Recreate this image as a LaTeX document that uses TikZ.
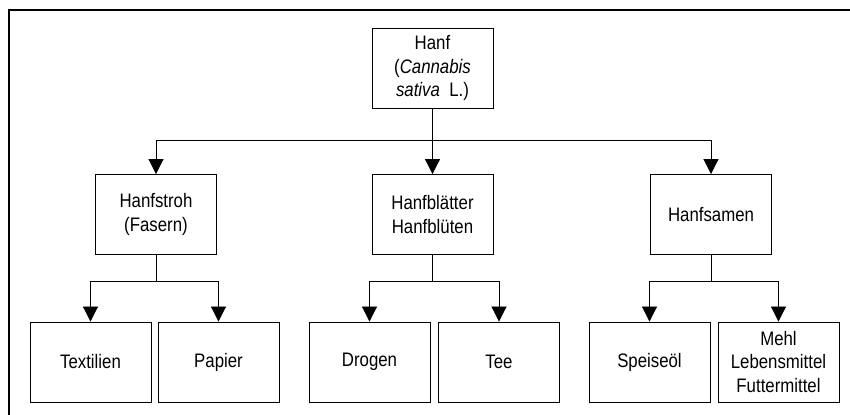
\documentclass[tikz,border=0pt]{standalone}
\usepackage{fontspec}
\setmainfont{Liberation Sans}[FakeStretch=0.86]
\usetikzlibrary{arrows.meta}

\begin{document}
\begin{tikzpicture}[
        x=0.025cm, y=-0.025cm,
        box/.style={draw, line width=0.6pt, minimum width=3.025cm, minimum height=2cm,
            align=center, inner sep=1pt, text=black,
            font=\fontsize{13.9}{16.7}\selectfont},
        link/.style={-{Triangle[length=0.375cm, width=0.375cm]}, line width=0.6pt}
    ]
        \useasboundingbox (0, 0) rectangle (850, 415);
        % Frame
        \draw[line width=1.1pt] (9, 420) -- (9, 10) -- (855, 10);

        % Top and middle level
        \node[box] (hanf) at (432.5, 68) {Hanf\\(\textit{Cannabis}\\\textit{sativa}~ L.)};
        \node[box] (stroh) at (156, 214.5) {Hanfstroh\\(Fasern)};
        \node[box] (blatt) at (432.5, 214.5) {Hanfblätter\\Hanfblüten};
        \node[box] (samen) at (711, 214.5) {Hanfsamen};

        % Bottom level
        \node[box] (textil) at (90.5, 362) {Textilien};
        \node[box] (papier) at (218.5, 362) {Papier};
        \node[box] (drogen) at (369.5, 362) {Drogen};
        \node[box] (tee) at (499, 362) {Tee};
        \node[box] (oel) at (649.5, 362) {Speiseöl};
        \node[box] (mehl) at (778.5, 362) {Mehl\\Lebensmittel\\Futtermittel};

        % Branch points
        \coordinate (j0) at (432.5, 140);
        \coordinate (j1) at (156, 281);
        \coordinate (j2) at (432.5, 281);
        \coordinate (j3) at (711, 281);

        % Connectors
        \draw[link] (hanf.south) -- (blatt.north);
        \draw[link] (hanf.south) -- (j0) -| (stroh.north);
        \draw[link] (hanf.south) -- (j0) -| (samen.north);
        \draw[link] (stroh.south) -- (j1) -| (textil.north);
        \draw[link] (stroh.south) -- (j1) -| (papier.north);
        \draw[link] (blatt.south) -- (j2) -| (drogen.north);
        \draw[link] (blatt.south) -- (j2) -| (tee.north);
        \draw[link] (samen.south) -- (j3) -| (oel.north);
        \draw[link] (samen.south) -- (j3) -| (mehl.north);
    \end{tikzpicture}
\end{document}
